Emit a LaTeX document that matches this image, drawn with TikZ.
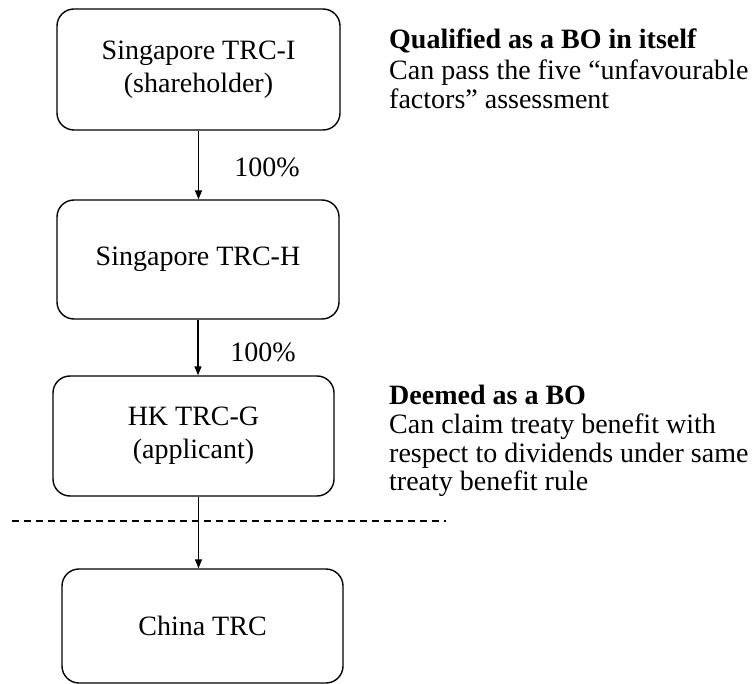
\documentclass[tikz,border=0pt]{standalone}
\usepackage{fontspec}
\setmainfont{Liberation Serif}
\usetikzlibrary{arrows.meta}

\tikzset{
  entity/.style={draw, line width=1.4pt, rounded corners=17pt, inner sep=0pt,
    align=center, font=\fontsize{28}{33}\selectfont},
  own/.style={draw, line width=1.2pt, -{Triangle[length=9pt,width=7pt]}},
  pct/.style={font=\fontsize{28}{30}\selectfont, inner sep=0pt},
  note/.style={font=\fontsize{28}{30}\selectfont, inner sep=0pt, anchor=base west},
  notehead/.style={note, font=\fontsize{28}{30}\selectfont\bfseries},
  border/.style={draw, line width=1.2pt, dash pattern=on 7pt off 5pt}
}

\begin{document}
\begin{tikzpicture}[x=1pt, y=-1pt]
  \useasboundingbox (0,0) rectangle (752,684);

  % ownership chain
  \node[entity, minimum width=283pt, minimum height=121pt] (sgi) at (198.5,69.5)
    {Singapore TRC-I\\(shareholder)};
  \node[entity, minimum width=282pt, minimum height=119pt] (sgh) at (198,259.5)
    {Singapore TRC-H};
  \node[entity, minimum width=281pt, minimum height=120pt] (hkg) at (193.5,436)
    {HK TRC-G\\(applicant)};
  \node[entity, minimum width=281pt, minimum height=114pt] (cn) at (202.5,626)
    {China TRC};

  \draw[own] (sgi.south) -- (sgi.south |- sgh.north);
  \draw[own] (sgh.south) -- (sgh.south |- hkg.north);
  \draw[own] ([xshift=5pt]hkg.south) -- ([xshift=5pt]hkg.south |- cn.north);

  \node[pct] (p1) at (267,167) {100\%};
  \node[pct] (p2) at (263,352) {100\%};

  % jurisdiction boundary
  \coordinate (bl) at (12,521);
  \coordinate (br) at (446,521);
  \draw[border] (bl) -- (br);

  % notes
  \node[notehead] (q1) at (389,49) {Qualified as a BO in itself};
  \node[note] (q2) at (389,80) {Can pass the five “unfavourable};
  \node[note] (q3) at (389,109) {factors” assessment};

  \node[notehead] (d1) at (389,404) {Deemed as a BO};
  \node[note] (d2) at (389,433) {Can claim treaty benefit with};
  \node[note] (d3) at (389,462) {respect to dividends under same};
  \node[note] (d4) at (389,490) {treaty benefit rule};
\end{tikzpicture}
\end{document}
